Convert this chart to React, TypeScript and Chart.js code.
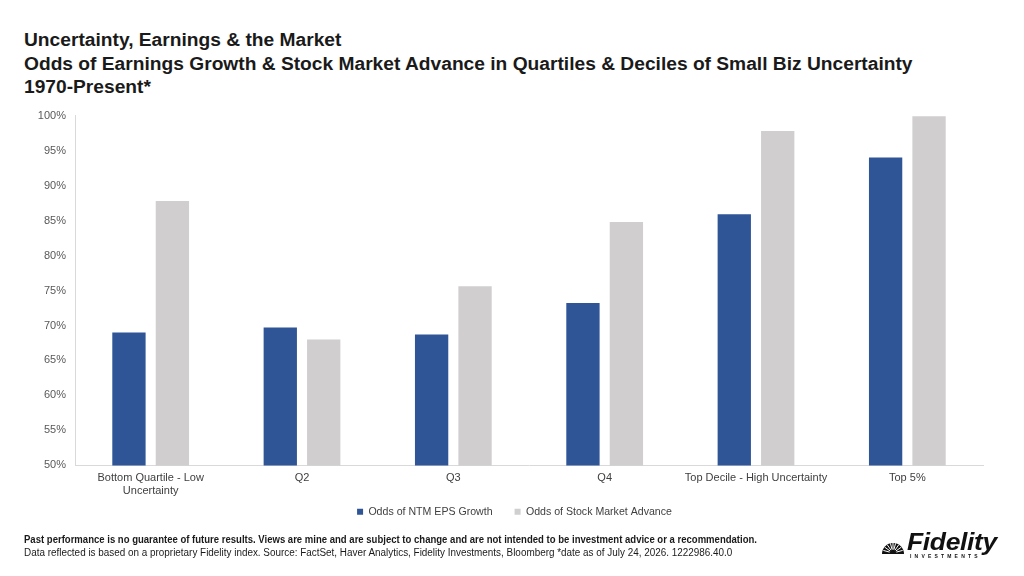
import React, { useEffect, useRef } from "react";
import { Chart, registerables } from "chart.js";

Chart.register(...registerables);

const categories: (string | string[])[] = [
  ["Bottom Quartile - Low", "Uncertainty"],
  "Q2",
  "Q3",
  "Q4",
  "Top Decile - High Uncertainty",
  "Top 5%",
];
const epsGrowthOdds = [69.0, 69.7, 68.7, 73.2, 85.9, 94.0];
const marketAdvanceOdds = [87.8, 68.0, 75.6, 84.8, 97.8, 99.9];
const seriesNames = ["Odds of NTM EPS Growth", "Odds of Stock Market Advance"];
const yMin = 50;
const yMax = 100;
const yStep = 5;

const titleLines = [
  "Uncertainty, Earnings & the Market",
  "Odds of Earnings Growth & Stock Market Advance in Quartiles & Deciles of Small Biz Uncertainty",
  "1970-Present*",
];
const footerBold =
  "Past performance is no guarantee of future results. Views are mine and are subject to change and are not intended to be investment advice or a recommendation.";
const footerNote =
  "Data reflected is based on a proprietary Fidelity index. Source: FactSet, Haver Analytics, Fidelity Investments, Bloomberg *date as of July 24, 2026. 1222986.40.0";

const BLUE = "#2F5597";
const GRAY = "#D0CECE";
const FONT = "'Liberation Sans', Arial, sans-serif";

const legendShift = {
  id: "legendShift",
  afterLayout(chart: any) {
    const lg = chart.legend;
    if (lg) {
      lg.top -= 17;
      lg.bottom -= 17;
      lg.left += 23;
      lg.right += 23;
    }
  },
};

export default function App() {
  const canvasRef = useRef<HTMLCanvasElement | null>(null);

  useEffect(() => {
    if (!canvasRef.current) return;
    const chart = new Chart(canvasRef.current, {
      type: "bar",
      data: {
        labels: categories,
        datasets: [
          {
            label: seriesNames[0],
            data: epsGrowthOdds,
            backgroundColor: BLUE,
            categoryPercentage: 0.574,
            barPercentage: 0.767,
          },
          {
            label: seriesNames[1],
            data: marketAdvanceOdds,
            backgroundColor: GRAY,
            categoryPercentage: 0.574,
            barPercentage: 0.767,
          },
        ],
      },
      plugins: [legendShift],
      options: {
        responsive: false,
        animation: false,
        devicePixelRatio: 1,
        layout: { padding: { top: 15, right: 41, left: 0, bottom: 0 } },
        plugins: {
          tooltip: { enabled: false },
          legend: {
            position: "bottom",
            labels: {
              boxWidth: 6,
              boxHeight: 6,
              padding: 22,
              color: "#404040",
              font: { family: FONT, size: 10.6 },
            },
          },
        },
        scales: {
          x: {
            grid: { display: false, drawTicks: false },
            border: { color: "#D9D9D9" },
            ticks: {
              color: "#404040",
              font: { family: FONT, size: 11 },
              padding: 6,
              maxRotation: 0,
              autoSkip: false,
            },
            afterFit: (s: any) => {
              s.height = 36;
            },
          },
          y: {
            min: yMin,
            max: yMax,
            grid: { display: false, drawTicks: false },
            border: { color: "#D9D9D9" },
            ticks: {
              stepSize: yStep,
              color: "#595959",
              font: { family: FONT, size: 11 },
              padding: 9,
              callback: (v: any) => `${v}%`,
            },
            afterFit: (s: any) => {
              s.width = 75;
            },
          },
        },
      },
    });
    return () => chart.destroy();
  }, []);

  return (
    <div
      style={{
        position: "absolute",
        left: 0,
        top: 0,
        width: 1024,
        height: 576,
        background: "#fff",
        overflow: "hidden",
        fontFamily: FONT,
      }}
    >
      <div
        style={{
          position: "absolute",
          left: 24,
          top: 28,
          fontSize: 19.2,
          fontWeight: "bold",
          lineHeight: "23.5px",
          color: "#1a1a1a",
          whiteSpace: "nowrap",
        }}
      >
        {titleLines.map((t, i) => (
          <div key={i}>{t}</div>
        ))}
      </div>
      <canvas
        ref={canvasRef}
        width={1024}
        height={444}
        style={{ position: "absolute", left: 0, top: 100, width: 1024, height: 444 }}
      />
      <div
        style={{
          position: "absolute",
          left: 24,
          top: 533,
          fontSize: 10,
          lineHeight: "13px",
          color: "#1a1a1a",
          whiteSpace: "nowrap",
        }}
      >
        <div style={{ fontWeight: "bold", transform: "scaleX(0.954)", transformOrigin: "left center" }}>
          {footerBold}
        </div>
        <div style={{ transform: "scaleX(0.99)", transformOrigin: "left center" }}>{footerNote}</div>
      </div>
      <div style={{ position: "absolute", left: 882, top: 533, width: 130, height: 26 }}>
        <svg width={24} height={22} style={{ position: "absolute", left: -1, top: 0 }} viewBox="0 0 24 22">
          <path d="M1 21 A11 11 0 0 1 23 21 Z" fill="#111" />
          {[15, 35, 55, 75, 90, 105, 125, 145, 165].map((a) => {
            const r = (a * Math.PI) / 180;
            return (
              <line
                key={a}
                x1={12 + Math.cos(r) * 3.5}
                y1={20 - Math.sin(r) * 3.5}
                x2={12 + Math.cos(r) * 10}
                y2={20 - Math.sin(r) * 10}
                stroke="#fff"
                strokeWidth={1}
              />
            );
          })}
        </svg>
        <div
          style={{
            position: "absolute",
            left: 25,
            top: -4,
            fontSize: 23,
            fontWeight: 900,
            fontStyle: "italic",
            color: "#111",
            letterSpacing: -0.3,
            transform: "scaleX(1.15)",
            transformOrigin: "left center",
            fontFamily: "Arial, 'Liberation Sans', sans-serif",
          }}
        >
          Fidelity
        </div>
        <div
          style={{
            position: "absolute",
            left: 28,
            top: 20,
            fontSize: 5,
            fontWeight: "bold",
            letterSpacing: 3.2,
            color: "#111",
          }}
        >
          INVESTMENTS
        </div>
      </div>
    </div>
  );
}
